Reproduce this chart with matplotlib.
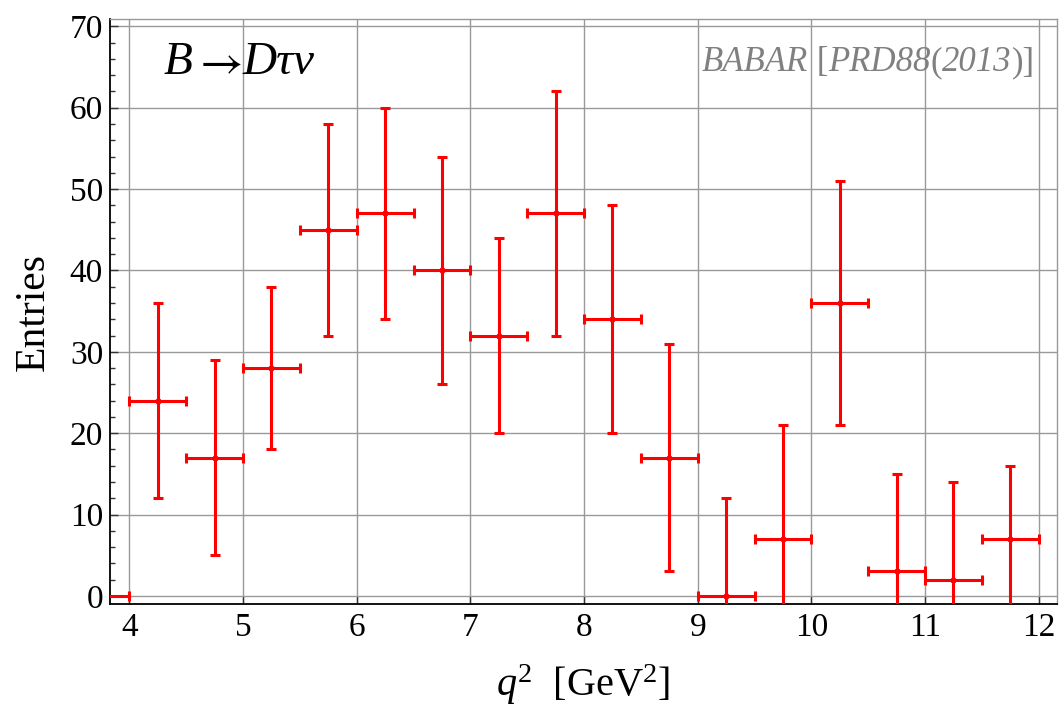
import matplotlib
matplotlib.use("Agg")
import matplotlib.pyplot as plt
from matplotlib.ticker import MultipleLocator
from matplotlib.offsetbox import TextArea, HPacker, AnchoredOffsetbox

plt.rcParams['font.family'] = ['Liberation Serif', 'DejaVu Serif']
plt.rcParams['mathtext.fontset'] = 'custom'
plt.rcParams['mathtext.rm'] = 'Liberation Serif'
plt.rcParams['mathtext.it'] = 'Liberation Serif:italic'

# BaBar B -> D tau nu, entries per q^2 bin
q2_center = [3.75, 4.25, 4.75, 5.25, 5.75, 6.25, 6.75, 7.25, 7.75,
             8.25, 8.75, 9.25, 9.75, 10.25, 10.75, 11.25, 11.75]
entries = [0, 24, 17, 28, 45, 47, 40, 32, 47, 34, 17, 0, 7, 36, 3, 2, 7]
entries_err = [12, 12, 12, 10, 13, 13, 14, 12, 15, 14, 14, 12, 14, 15, 12, 12, 9]
bin_half = 0.25


def mixed_label(parts, size, color):
    # parts: list of (text, italic, extra text props)
    boxes = []
    for s, italic, extra in parts:
        props = dict(fontsize=size, color=color,
                     fontstyle='italic' if italic else 'normal')
        if extra:
            props.update(extra)
        boxes.append(TextArea(s, textprops=props))
    return HPacker(children=boxes, align='baseline', pad=0, sep=0)


fig = plt.figure(figsize=(10.59, 7.10), dpi=100)
ax = fig.add_axes([0.1039, 0.1493, 0.8941, 0.8239])

ax.errorbar(q2_center, entries, xerr=bin_half, yerr=entries_err,
            fmt='o', color='#ff0000', ms=3.5, elinewidth=2.2,
            capsize=3.3, capthick=2.2, zorder=3)

ax.set_xlim(3.83, 12.16)
ax.set_ylim(-1.0, 70.9)
ax.xaxis.set_major_locator(MultipleLocator(1))
ax.yaxis.set_major_locator(MultipleLocator(10))
ax.yaxis.set_minor_locator(MultipleLocator(2))

ax.grid(True, which='major', color='#999999', linewidth=1.0, zorder=0)
ax.set_axisbelow(True)

ax.tick_params(axis='both', which='both', direction='in', top=False, right=False,
               labelsize=24, width=1.0, color='#333333')
ax.tick_params(axis='both', which='major', length=6)
ax.tick_params(axis='y', which='minor', length=3.5)
ax.tick_params(axis='x', pad=6)
ax.tick_params(axis='y', pad=5)

for side in ['left', 'bottom']:
    ax.spines[side].set_color('black')
    ax.spines[side].set_linewidth(1.3)
for side in ['top', 'right']:
    ax.spines[side].set_color('#999999')
    ax.spines[side].set_linewidth(1.0)

ax.set_ylabel('Entries', fontsize=30, labelpad=12)
ax.set_xlabel(r'$q^2$  [GeV$^2$]', fontsize=29, labelpad=14)

arrow = {'math_fontfamily': 'stix'}
title = mixed_label([('B', True, None), (r'$\rightarrow$', False, arrow),
                     ('Dτν', True, None)], 34, 'black')
ax.add_artist(AnchoredOffsetbox(loc='center left', child=title, frameon=False,
                                bbox_to_anchor=(0.057, 0.925),
                                bbox_transform=ax.transAxes, pad=0, borderpad=0))

source = mixed_label([('BABAR', True, None), (' [', False, None),
                      ('PRD88', True, None), ('(', False, None),
                      ('2013', True, None), (')]', False, None)], 25, '#808080')
ax.add_artist(AnchoredOffsetbox(loc='center right', child=source, frameon=False,
                                bbox_to_anchor=(0.977, 0.925),
                                bbox_transform=ax.transAxes, pad=0, borderpad=0))

fig.savefig('out.png', dpi=100)
